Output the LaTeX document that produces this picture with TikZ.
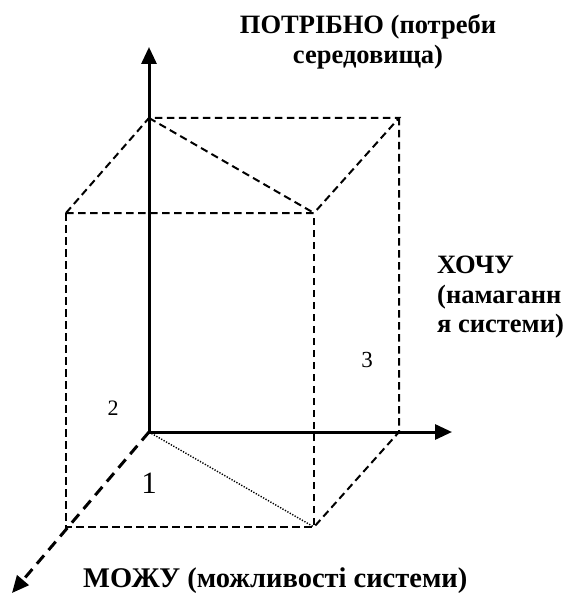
\documentclass[tikz,border=0pt]{standalone}
\usepackage{fontspec}
\setmainfont{Liberation Serif}
\usetikzlibrary{arrows.meta,positioning}

\begin{document}
\begin{tikzpicture}[x=1pt, y=-1pt,
    axis/.style={-{Triangle[length=17pt,width=15pt]}, line width=3pt},
    edge/.style={line width=2pt, dash pattern=on 7.5pt off 4.5pt},
    title/.style={font=\bfseries\fontsize{26.5}{29.5}\selectfont, inner sep=0pt},
    num/.style={inner sep=0pt}
]
    \useasboundingbox (0,0) rectangle (568,596);

    % Cube corners
    \coordinate (O)  at (149,432);
    \coordinate (bt) at (149,118);
    \coordinate (btr) at (399,118);
    \coordinate (br) at (399,432);
    \coordinate (ft) at (66,213);
    \coordinate (ftr) at (314,213);
    \coordinate (fb) at (66,527);
    \coordinate (fbr) at (314,527);

    % Axis tips
    \coordinate (ytip) at (149,47);
    \coordinate (xtip) at (452,432);
    \coordinate (ztip) at (12,593);

    % Dashed edges
    \draw[edge] (ft) -- (bt) -- (btr) -- (ftr) -- cycle;
    \draw[edge] (bt) -- (ftr);
    \draw[edge] (ft) -- (fb) -- (fbr) -- (ftr);
    \draw[edge] (btr) -- (br) -- (fbr);
    \draw[line width=1.4pt, dash pattern=on 1.3pt off 1.5pt] (O) -- (fbr);

    % Axes
    \draw[axis] (O) -- (ytip);
    \draw[axis] (O) -- (xtip);
    \draw[axis, dash pattern=on 11pt off 7pt] (O) -- (ztip);

    % Labels
    \node[title, font=\bfseries\fontsize{26.5}{30}\selectfont, anchor=north, align=center] (need) at (368,14)
        {ПОТРІБНО (потреби\\середовища)};
    \node[title, anchor=north west, align=left] (want) at (437,256)
        {ХОЧУ\\(намаганн\\я системи)};
    \node[title, font=\bfseries\fontsize{28.5}{30}\selectfont, anchor=base west] (can) at (83,587)
        {МОЖУ (можливості системи)};

    \node[num, font=\fontsize{22}{24}\selectfont] (n2) at (113,408) {2};
    \node[num, font=\fontsize{31}{34}\selectfont] (n1) at (149,483) {1};
    \node[num, font=\fontsize{23}{25}\selectfont] (n3) at (367,360) {3};
\end{tikzpicture}
\end{document}
